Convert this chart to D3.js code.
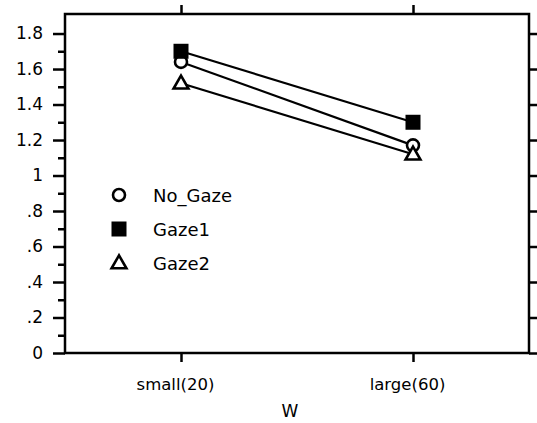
<!DOCTYPE html>
<html>
<head>
<meta charset="utf-8">
<script src="https://cdn.jsdelivr.net/npm/d3@7"></script>
<style>
  body { margin: 0; background: #fff; }
  text { font-family: "DejaVu Sans", sans-serif; fill: #000; }
</style>
</head>
<body>
<div id="chart"></div>
<script>
var categories = ["small(20)", "large(60)"];
var noGaze = [1.64, 1.17];
var gaze1 = [1.70, 1.30];
var gaze2 = [1.52, 1.12];
var yTicks = [0, 0.2, 0.4, 0.6, 0.8, 1, 1.2, 1.4, 1.6, 1.8];
var yLabels = ["0", ".2", ".4", ".6", ".8", "1", "1.2", "1.4", "1.6", "1.8"];

var w = 537, h = 423;
var padL = 65, padR = 529, padT = 14, padB = 353;

var svg = d3.select("#chart").append("svg")
    .attr("width", w).attr("height", h);

var x = d3.scalePoint().domain(categories).range([padL, padR]).padding(0.5);
var y = d3.scaleLinear().domain([0, 1.91]).range([padB, padT]);

var minor = d3.range(0.1, 1.9, 0.2);

// frame
svg.append("rect")
    .attr("x", padL).attr("y", padT)
    .attr("width", padR - padL).attr("height", padB - padT)
    .attr("fill", "none").attr("stroke", "#000").attr("stroke-width", 2.5);

// left axis
var gl = svg.append("g").attr("transform", "translate(" + padL + ",0)");
gl.call(d3.axisLeft(y).tickValues(yTicks).tickSize(12).tickPadding(10)
    .tickFormat(function (d, i) { return yLabels[i]; }));
gl.append("g").call(d3.axisLeft(y).tickValues(minor).tickSize(7).tickFormat(""));

// right axis (ticks only)
var gr = svg.append("g").attr("transform", "translate(" + padR + ",0)");
gr.call(d3.axisRight(y).tickValues(yTicks).tickSize(8).tickFormat(""));

// bottom / top axis
var gb = svg.append("g").attr("transform", "translate(0," + padB + ")");
gb.call(d3.axisBottom(x).tickSize(9).tickPadding(16));
var gt = svg.append("g").attr("transform", "translate(0," + padT + ")");
gt.call(d3.axisTop(x).tickSize(9).tickFormat(""));

svg.selectAll(".domain").remove();
svg.selectAll(".tick line").attr("stroke", "#000").attr("stroke-width", 2.5);
gl.selectAll(".tick text").attr("font-size", 17).attr("fill", "#000")
    .style("font-family", "'DejaVu Sans', sans-serif");
gb.selectAll(".tick text").attr("font-size", 16.5).attr("fill", "#000")
    .attr("dx", -6)
    .style("font-family", "'DejaVu Sans', sans-serif");

svg.append("text").attr("x", 290)
    .attr("y", 417).attr("text-anchor", "middle").attr("font-size", 17).text("W");

// series
var series = [
  { name: "No_Gaze", values: noGaze, shape: "circle" },
  { name: "Gaze1", values: gaze1, shape: "square" },
  { name: "Gaze2", values: gaze2, shape: "triangle" }
];

var line = d3.line()
    .x(function (d, i) { return x(categories[i]); })
    .y(function (d) { return y(d); });

svg.selectAll(".series").data(series).enter().append("path")
    .attr("d", function (s) { return line(s.values); })
    .attr("fill", "none").attr("stroke", "#000").attr("stroke-width", 2.2);

function marker(g, shape) {
  if (shape === "circle") {
    g.append("circle").attr("r", 6).attr("fill", "#fff")
        .attr("stroke", "#000").attr("stroke-width", 2.6);
  } else if (shape === "square") {
    g.append("rect").attr("x", -7.5).attr("y", -7.5).attr("width", 15).attr("height", 15)
        .attr("fill", "#000");
  } else {
    g.append("path").attr("d", d3.symbol().type(d3.symbolTriangle).size(95))
        .attr("transform", "translate(0,1)")
        .attr("fill", "#fff").attr("stroke", "#000").attr("stroke-width", 2.6);
  }
}

series.forEach(function (s) {
  s.values.forEach(function (v, i) {
    var g = svg.append("g")
        .attr("transform", "translate(" + x(categories[i]) + "," + y(v) + ")");
    marker(g, s.shape);
  });
});

// legend
series.forEach(function (s, i) {
  var ly = 195 + i * 34;
  var g = svg.append("g").attr("transform", "translate(119," + ly + ")");
  marker(g, s.shape);
  svg.append("text").attr("x", 153).attr("y", ly + 7)
      .attr("font-size", 18).text(s.name);
});
</script>
</body>
</html>
